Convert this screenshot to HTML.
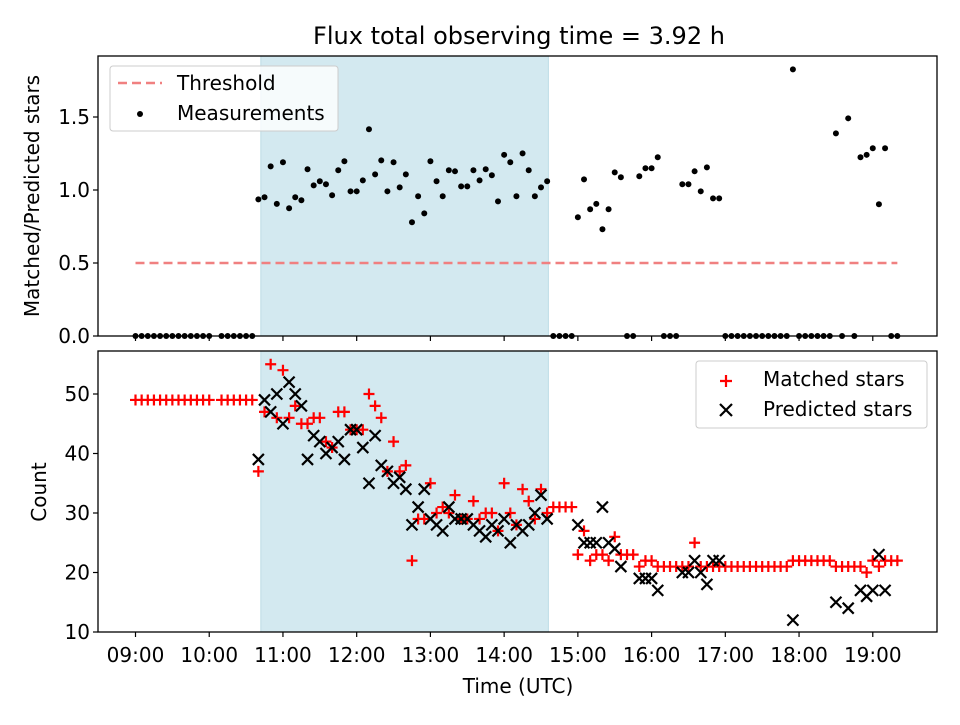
<!DOCTYPE html>
<html><head><meta charset="utf-8"><style>
body{margin:0;background:#fff;position:relative}
svg text{font-family:"DejaVu Sans","Liberation Sans",sans-serif;fill:#000}
</style></head><body>
<svg id="chart" width="960" height="720" xmlns="http://www.w3.org/2000/svg">
<rect width="960" height="720" fill="#fff"/>
<g id="g"></g>
</svg>
<script>
const times=[0,5,10,15,20,25,30,35,40,45,50,55,60,65,70,75,80,85,90,95,100,105,110,115,120,125,130,135,140,145,150,155,160,165,170,175,180,185,190,195,200,205,210,215,220,225,230,235,240,245,250,255,260,265,270,275,280,285,290,295,300,305,310,315,320,325,330,335,340,345,350,355,360,365,370,375,380,385,390,395,400,405,410,415,420,425,430,435,440,445,450,455,460,465,470,475,480,485,490,495,500,505,510,515,520,525,530,535,540,545,550,555,560,565,570,575,580,585,590,595,600,605,610,615,620];
const ratio=[0,0,0,0,0,0,0,0,0,0,0,0,0,null,0,0,0,0,0,0,
0.936,0.95,1.162,0.905,1.19,0.875,0.95,0.93,1.142,1.032,1.06,1.039,0.964,1.135,1.197,0.991,0.991,1.066,1.416,1.107,1.203,0.991,1.19,1.018,1.107,0.779,0.957,0.84,1.197,1.06,0.957,1.135,1.128,1.025,1.025,1.135,1.066,1.142,1.101,0.922,1.241,1.19,0.957,
1.251,1.135,0.957,1.018,1.06,0,0,0,0,0.813,1.073,0.868,0.905,0.731,0.868,1.121,1.087,0,0,1.094,1.149,1.149,1.224,0,0,0,1.039,1.039,1.128,0.991,1.155,0.943,0.943,
0,0,0,0,0,0,0,0,0,0,0,1.826,0,0,0,0,0,0,1.388,0,1.491,0,1.224,1.241,1.286,0.902,1.286,0,0];
const matched=[49,49,49,49,49,49,49,49,49,49,49,49,49,null,49,49,49,49,49,49,
37,47,55,46,54,46,48,45,45,46,46,42,41,47,47,44,44,44,50,48,46,37,42,37,38,22,29,29,35,30,31,30,33,29,29,32,29,30,30,27,35,30,28,34,32,29,34,30,
31,31,31,31,23,27,22,23,23,22,26,23,23,23,21,22,22,21,21,21,21,21,21,25,21,21,21,21,
21,21,21,21,21,21,21,21,21,21,21,22,22,22,22,22,22,22,21,21,21,21,21,20,22,21,22,22,22];
const predicted=[null,null,null,null,null,null,null,null,null,null,null,null,null,null,null,null,null,null,null,null,
39,49,47,50,45,52,50,48,39,43,42,40,41,42,39,44,44,41,35,43,38,37,35,36,34,28,31,34,29,28,27,31,29,29,29,28,27,26,28,27,29,25,28,27,28,30,33,29,
null,null,null,null,28,25,25,25,31,25,24,21,null,null,19,19,19,17,null,null,null,20,20,22,20,18,22,22,
null,null,null,null,null,null,null,null,null,null,null,12,null,null,null,null,null,null,15,null,14,null,17,16,17,23,17,null,null];
const shadeStart=102, shadeEnd=336;
const threshold=0.5;
const xTickLabels=["09:00","10:00","11:00","12:00","13:00","14:00","15:00","16:00","17:00","18:00","19:00"];
const topTicks=[0,0.5,1.0,1.5];
const botTicks=[10,20,30,40,50];

const NS="http://www.w3.org/2000/svg";
const g=document.getElementById('g');
function el(t,a,p){const e=document.createElementNS(NS,t);for(const k in a)e.setAttribute(k,a[k]);(p||g).appendChild(e);return e;}
const L=98,R=937,T1=56,B1=336,T2=351,B2=632;
const x=m=>135.5+m*1.2288;
const y1=v=>B1-v*146;
const y2=v=>B2-(v-10)*5.95;

for(const [t,b,n] of [[T1,B1,'observing-span-top'],[T2,B2,'observing-span-bottom']]){
  const r=el('rect',{x:x(shadeStart),y:t,width:x(shadeEnd)-x(shadeStart),height:b-t,fill:'#d3e9f0',stroke:'#bcdce6','stroke-width':1});
  
  
}
const th=el('line',{x1:x(times[0]),x2:x(times[times.length-1]),y1:y1(threshold),y2:y1(threshold),stroke:'#f08080','stroke-width':2.5,'stroke-dasharray':'9,5'});


ratio.forEach((v,i)=>{if(v===null)return;
  const c=el('circle',{cx:x(times[i]),cy:y1(v),r:3,fill:'#000'});
  
  
});
matched.forEach((v,i)=>{if(v===null)return;const cx=x(times[i]),cy=y2(v);
  const p=el('path',{d:`M${cx-5.5},${cy}H${cx+5.5}M${cx},${cy-5.5}V${cy+5.5}`,stroke:'#f00','stroke-width':2.2});
  
  
});
predicted.forEach((v,i)=>{if(v===null)return;const cx=x(times[i]),cy=y2(v);
  const p=el('path',{d:`M${cx-5.5},${cy-5.5}L${cx+5.5},${cy+5.5}M${cx-5.5},${cy+5.5}L${cx+5.5},${cy-5.5}`,stroke:'#000','stroke-width':2.2});
  
  
});
for(const [t,b,n] of [[T1,B1,'top-axes-frame'],[T2,B2,'bottom-axes-frame']]){
  const r=el('rect',{x:L,y:t,width:R-L,height:b-t,fill:'none',stroke:'#000','stroke-width':1.3});
  
  
}
xTickLabels.forEach((s,i)=>{const xx=x(i*60);
  el('line',{x1:xx,x2:xx,y1:B1,y2:B1+5,stroke:'#000','stroke-width':1.2});
  el('line',{x1:xx,x2:xx,y1:B2,y2:B2+5,stroke:'#000','stroke-width':1.2});
  const t=el('text',{x:xx,y:B2+30,'text-anchor':'middle','font-size':20});t.textContent=s;
  
  
});
topTicks.forEach(v=>{const yy=y1(v);el('line',{x1:L-5,x2:L,y1:yy,y2:yy,stroke:'#000','stroke-width':1.2});
  const t=el('text',{x:L-8,y:yy+7,'text-anchor':'end','font-size':20});t.textContent=v.toFixed(1);
  
  
});
botTicks.forEach(v=>{const yy=y2(v);el('line',{x1:L-5,x2:L,y1:yy,y2:yy,stroke:'#000','stroke-width':1.2});
  const t=el('text',{x:L-8,y:yy+7,'text-anchor':'end','font-size':20});t.textContent=v;
  
  
});
</script>
<svg width="960" height="720" style="position:absolute;left:0;top:0" xmlns="http://www.w3.org/2000/svg">
<text x="519" y="44" text-anchor="middle" font-size="24">Flux total observing time = 3.92 h</text>
<text transform="translate(39,196) rotate(-90)" text-anchor="middle" font-size="20">Matched/Predicted stars</text>
<text transform="translate(46,492) rotate(-90)" text-anchor="middle" font-size="20">Count</text>
<text x="518" y="693" text-anchor="middle" font-size="20">Time (UTC)</text>
<g>
<rect x="110" y="66" width="228" height="65" rx="3" fill="#fff" fill-opacity="0.8" stroke="#ccc"/>
<line x1="118" x2="162" y1="83" y2="83" stroke="#f08080" stroke-width="2.5" stroke-dasharray="9,5"/>
<text x="177" y="90" font-size="20">Threshold</text>
<circle cx="140" cy="114" r="3" fill="#000"/>
<text x="177" y="120" font-size="20">Measurements</text>
</g>
<g>
<rect x="696" y="361" width="231" height="67" rx="3" fill="#fff" fill-opacity="0.8" stroke="#ccc"/>
<path d="M720,381H732M726,375V387" stroke="#f00" stroke-width="2.2"/>
<text x="763" y="386" font-size="20">Matched stars</text>
<path d="M720,404L732,416M720,416L732,404" stroke="#000" stroke-width="2.2"/>
<text x="763" y="416" font-size="20">Predicted stars</text>
</g>
</svg>
</body></html>
